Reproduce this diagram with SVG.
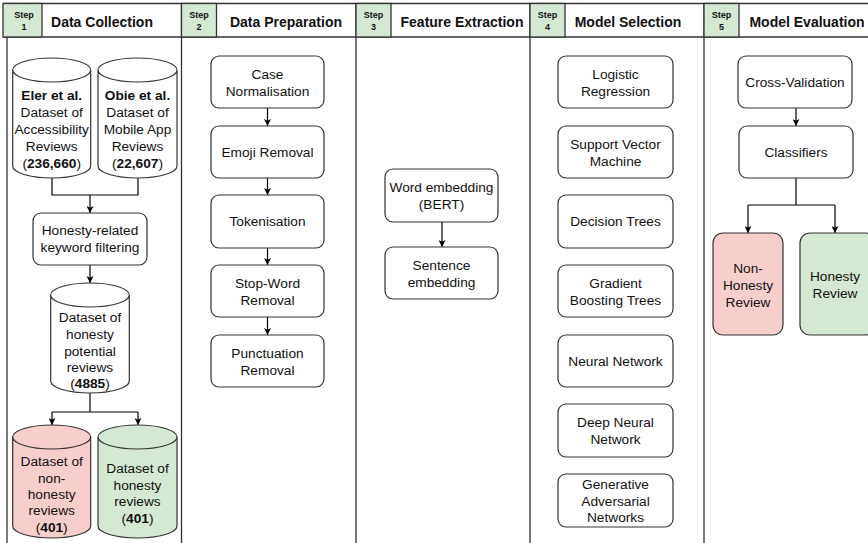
<svg xmlns="http://www.w3.org/2000/svg" width="868" height="543" viewBox="0 0 868 543">
<defs>
<marker id="arr" viewBox="0 0 10 10" refX="10" refY="5" markerWidth="7" markerHeight="7" markerUnits="userSpaceOnUse" orient="auto">
<path d="M0,0 L10,5 L0,10 L2.5,5 Z" fill="#000"/>
</marker>
<style>
text{font-family:"Liberation Sans",Arial,sans-serif;font-size:13.7px;fill:#111;text-anchor:middle}
.t{font-weight:bold;font-size:14px}
.s{font-weight:bold;font-size:9px}
.b{font-weight:bold}
.lane{fill:none;stroke:#333;stroke-width:1.3}
.step{fill:#d5e8d4;stroke:#333;stroke-width:1.3}
.box{fill:#fff;stroke:#333;stroke-width:1.2}
.pink{fill:#f8cecc;stroke:#333;stroke-width:1.2}
.green{fill:#d5e8d4;stroke:#333;stroke-width:1.2}
.c{fill:none;stroke:#000;stroke-width:1.2}
.a{fill:none;stroke:#000;stroke-width:1.2;marker-end:url(#arr)}
</style>
</defs>
<rect width="868" height="543" fill="#fff"/>

<g id="lanes">
<path class="lane" d="M3,3.5 H868 M3,37 H868 M7,37 V543 M181.5,3.5 V543 M356,3.5 V543 M530,3.5 V543 M704,3.5 V543"/>
<rect class="step" x="3" y="3.5" width="39" height="33.5"/>
<rect class="step" x="181.5" y="3.5" width="35" height="33.5"/>
<rect class="step" x="356" y="3.5" width="35" height="33.5"/>
<rect class="step" x="530" y="3.5" width="35" height="33.5"/>
<rect class="step" x="704" y="3.5" width="35" height="33.5"/>
<text class="s" x="24" y="18">Step</text><text class="s" x="24" y="30">1</text>
<text class="s" x="199" y="18">Step</text><text class="s" x="199" y="30">2</text>
<text class="s" x="373.5" y="18">Step</text><text class="s" x="373.5" y="30">3</text>
<text class="s" x="547.5" y="18">Step</text><text class="s" x="547.5" y="30">4</text>
<text class="s" x="721.5" y="18">Step</text><text class="s" x="721.5" y="30">5</text>
<text class="t" x="102" y="27">Data Collection</text>
<text class="t" x="286" y="27">Data Preparation</text>
<text class="t" x="462" y="27">Feature Extraction</text>
<text class="t" x="628" y="27">Model Selection</text>
<text class="t" x="807" y="27">Model Evaluation</text>
</g>

<g id="connectors">
<path class="c" d="M52,178 V195 H138 V178"/>
<path class="a" d="M90,195 V213"/>
<path class="a" d="M90,265 V283"/>
<path class="c" d="M90,393 V412 H52 M90,412 H138"/>
<path class="a" d="M52,412 V425"/>
<path class="a" d="M138,412 V425"/>
<path class="a" d="M267.5,108 V126"/>
<path class="a" d="M267.5,178 V195"/>
<path class="a" d="M267.5,248 V265"/>
<path class="a" d="M267.5,317 V335"/>
<path class="a" d="M442,222 V247"/>
<path class="a" d="M796,108 V126"/>
<path class="c" d="M796,178 V205 H748 M796,205 H835"/>
<path class="a" d="M748,205 V233"/>
<path class="a" d="M835,205 V233"/>
</g>

<g id="eler">
<path class="box" d="M12.7,70 V166 A39,12 0 0 0 90.7,166 V70 A39,12 0 0 0 12.7,70 Z M12.7,70 A39,12 0 0 0 90.7,70"/>
<text x="51.7" y="100" class="b">Eler et al.</text>
<text x="51.7" y="117">Dataset of</text>
<text x="51.7" y="134">Accessibility</text>
<text x="51.7" y="151">Reviews</text>
<text x="51.7" y="168">(<tspan class="b">236,660</tspan>)</text>
</g>
<g id="obie">
<path class="box" d="M98,70 V166 A39.5,12 0 0 0 177,166 V70 A39.5,12 0 0 0 98,70 Z M98,70 A39.5,12 0 0 0 177,70"/>
<text x="137.5" y="100" class="b">Obie et al.</text>
<text x="137.5" y="117">Dataset of</text>
<text x="137.5" y="134">Mobile App</text>
<text x="137.5" y="151">Reviews</text>
<text x="137.5" y="168">(<tspan class="b">22,607</tspan>)</text>
</g>
<g id="filter">
<rect class="box" x="33" y="213" width="114" height="52" rx="8"/>
<text x="90" y="235">Honesty-related</text>
<text x="90" y="252">keyword filtering</text>
</g>
<g id="potential">
<path class="box" d="M50.7,295 V381 A39.3,12 0 0 0 129.3,381 V295 A39.3,12 0 0 0 50.7,295 Z M50.7,295 A39.3,12 0 0 0 129.3,295"/>
<text x="90" y="322">Dataset of</text>
<text x="90" y="339">honesty</text>
<text x="90" y="356">potential</text>
<text x="90" y="372">reviews</text>
<text x="90" y="388">(<tspan class="b">4885</tspan>)</text>
</g>
<g id="nonhonesty">
<path class="pink" d="M12.7,437 V526 A39,12 0 0 0 90.7,526 V437 A39,12 0 0 0 12.7,437 Z"/>
<path class="pink" d="M12.7,437 A39,12 0 0 0 90.7,437"/>
<text x="51.7" y="466">Dataset of</text>
<text x="51.7" y="483">non-</text>
<text x="51.7" y="499">honesty</text>
<text x="51.7" y="515">reviews</text>
<text x="51.7" y="532">(<tspan class="b">401</tspan>)</text>
</g>
<g id="honesty">
<path class="green" d="M98,437 V526 A39.5,12 0 0 0 177,526 V437 A39.5,12 0 0 0 98,437 Z"/>
<path class="green" d="M98,437 A39.5,12 0 0 0 177,437"/>
<text x="137.5" y="473">Dataset of</text>
<text x="137.5" y="490">honesty</text>
<text x="137.5" y="506">reviews</text>
<text x="137.5" y="523">(<tspan class="b">401</tspan>)</text>
</g>

<g id="case"><rect class="box" x="211" y="56" width="113" height="52" rx="8"/><text x="267.5" y="78.5">Case</text><text x="267.5" y="95.5">Normalisation</text></g>
<g id="emoji"><rect class="box" x="211" y="126" width="113" height="52" rx="8"/><text x="267.5" y="157">Emoji Removal</text></g>
<g id="token"><rect class="box" x="211" y="195" width="113" height="53" rx="8"/><text x="267.5" y="226">Tokenisation</text></g>
<g id="stopword"><rect class="box" x="211" y="265" width="113" height="52" rx="8"/><text x="267.5" y="287.5">Stop-Word</text><text x="267.5" y="304.5">Removal</text></g>
<g id="punct"><rect class="box" x="211" y="335" width="113" height="52" rx="8"/><text x="267.5" y="357.5">Punctuation</text><text x="267.5" y="374.5">Removal</text></g>

<g id="word"><rect class="box" x="385" y="169" width="113" height="53" rx="8"/><text x="441.5" y="192">Word embedding</text><text x="441.5" y="209">(BERT)</text></g>
<g id="sentence"><rect class="box" x="385" y="247" width="113" height="52" rx="8"/><text x="441.5" y="269.5">Sentence</text><text x="441.5" y="286.5">embedding</text></g>

<g id="lr"><rect class="box" x="558" y="56" width="115" height="52" rx="8"/><text x="615.5" y="78.5">Logistic</text><text x="615.5" y="95.5">Regression</text></g>
<g id="svm"><rect class="box" x="558" y="126" width="115" height="52" rx="8"/><text x="615.5" y="148.5">Support Vector</text><text x="615.5" y="165.5">Machine</text></g>
<g id="dt"><rect class="box" x="558" y="195" width="115" height="53" rx="8"/><text x="615.5" y="226">Decision Trees</text></g>
<g id="gbt"><rect class="box" x="558" y="265" width="115" height="52" rx="8"/><text x="615.5" y="287.5">Gradient</text><text x="615.5" y="304.5">Boosting Trees</text></g>
<g id="nn"><rect class="box" x="558" y="335" width="115" height="52" rx="8"/><text x="615.5" y="366">Neural Network</text></g>
<g id="dnn"><rect class="box" x="558" y="404" width="115" height="53" rx="8"/><text x="615.5" y="427">Deep Neural</text><text x="615.5" y="444">Network</text></g>
<g id="gan"><rect class="box" x="558" y="474" width="115" height="53" rx="8"/><text x="615.5" y="489">Generative</text><text x="615.5" y="505.5">Adversarial</text><text x="615.5" y="522">Networks</text></g>

<g id="cv"><rect class="box" x="738" y="56" width="114" height="52" rx="8"/><text x="795" y="87">Cross-Validation</text></g>
<g id="classifiers"><rect class="box" x="739" y="126" width="114" height="52" rx="8"/><text x="796" y="157">Classifiers</text></g>
<g id="nonhonestyreview"><rect class="pink" x="713" y="233" width="70" height="102" rx="10"/><text x="748" y="273">Non-</text><text x="748" y="290">Honesty</text><text x="748" y="307">Review</text></g>
<g id="honestyreview"><rect class="green" x="800" y="233" width="75" height="102" rx="10"/><text x="835" y="281">Honesty</text><text x="835" y="298">Review</text></g>
</svg>
